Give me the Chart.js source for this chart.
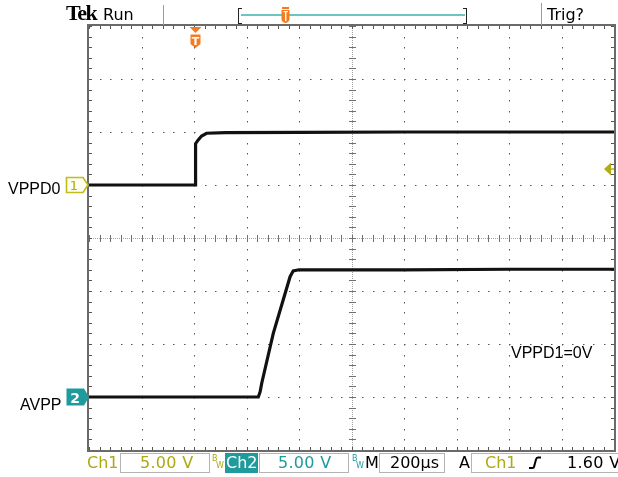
<!DOCTYPE html>
<html><head><meta charset="utf-8">
<script src="https://cdn.jsdelivr.net/npm/chart.js@4"></script>
<style>
html,body{margin:0;padding:0;background:#fff;}
#wrap{position:relative;width:618px;height:477px;overflow:hidden;background:#fff;}
canvas{position:absolute;left:0;top:0;}
.t{position:absolute;white-space:nowrap;font-size:16px;line-height:16px;}
.sans{font-family:"Liberation Sans",Arial,sans-serif;}
.dv{font-family:"DejaVu Sans",Verdana,sans-serif;}
.box{position:absolute;border:1px solid #b4b4b4;box-sizing:border-box;}
.vl{position:absolute;width:1px;background:#9a9a9a;}
.bw{position:absolute;font-family:"DejaVu Sans",sans-serif;font-size:8px;line-height:8px;}
.ol{color:#ada814;}
.tl{color:#1f9a9d;}
svg{position:absolute;overflow:visible;}
</style></head>
<body><div id="wrap">
<canvas id="c" width="618" height="477"></canvas>

<!-- header -->
<div class="t" style="left:66px;top:3px;font-family:'Liberation Serif','Times New Roman',serif;font-weight:bold;font-size:22px;line-height:20px;letter-spacing:-1.4px;">Tek</div>
<div class="t dv" style="left:103px;top:7px;">Run</div>
<div class="vl" style="left:163px;top:5px;height:20px;"></div>
<div style="position:absolute;left:238px;top:8px;width:3px;height:14px;border:1px solid #222;border-right:none;"></div>
<div style="position:absolute;left:241px;top:14px;width:224px;height:2px;background:#6cc5c2;"></div>
<div style="position:absolute;left:463px;top:8px;width:3px;height:14px;border:1px solid #222;border-left:none;"></div>
<svg style="left:280px;top:6px;" width="12" height="18"><path d="M2,1 H9 V3 H2 Z M1.5,4 H9.5 V13 Q9.5,16 5.5,17 Q1.5,16 1.5,13 Z" fill="#f47b20"/><rect x="5" y="5" width="1.4" height="10" fill="#fff"/><rect x="3.5" y="5" width="4.4" height="1.2" fill="#fff"/></svg>
<div class="vl" style="left:541px;top:3px;height:22px;"></div>
<div class="t dv" style="left:547px;top:7px;">Trig?</div>

<!-- trigger position marker -->
<svg style="left:189px;top:26px;" width="14" height="24"><path d="M0.5,1 H12.5 L6.5,7 Z" fill="#f47b20"/><path d="M1.5,8.5 H11.5 V18 L6.5,22 L1.5,18 Z" fill="#f47b20"/><text x="6.5" y="19" text-anchor="middle" font-family="DejaVu Sans,sans-serif" font-weight="bold" font-size="11" fill="#fff">T</text></svg>

<!-- channel labels -->
<div class="t sans" style="left:8px;top:181px;">VPPD0</div>
<svg style="left:65px;top:176px;" width="26" height="19"><path d="M1.5,1.5 H18 L23,9 L18,16.5 H1.5 Z" fill="#fffff0" stroke="#c2ba1c" stroke-width="1.6"/><text x="9" y="14" text-anchor="middle" font-family="DejaVu Sans,sans-serif" font-size="13" fill="#ada814">1</text></svg>
<div class="t sans" style="left:20px;top:397px;">AVPP</div>
<svg style="left:66px;top:388px;" width="26" height="19"><path d="M0.5,0.5 H18 L23,9 L18,17.5 H0.5 Z" fill="#1f9a9d"/><text x="9" y="15" text-anchor="middle" font-family="DejaVu Sans,sans-serif" font-weight="bold" font-size="14" fill="#fff">2</text></svg>
<div class="t sans" style="left:511px;top:345px;">VPPD1=0V</div>
<svg style="left:602px;top:161px;" width="14" height="16"><path d="M2,8 L9,1.5 V14.5 Z" fill="#b3ad14"/><rect x="9" y="7.3" width="3" height="1.4" fill="#b3ad14"/></svg>

<!-- bottom bar -->
<div class="t dv ol" style="left:87px;top:455px;">Ch1</div>
<div class="box" style="left:120px;top:453px;width:90px;height:20px;"></div>
<div class="t dv ol" style="left:140px;top:455px;letter-spacing:0.3px;">5.00 V</div>
<div class="bw ol" style="left:212px;top:455px;">B</div><div class="bw ol" style="left:216px;top:462px;">W</div>
<div style="position:absolute;left:225px;top:453px;width:33px;height:20px;background:#1f9a9d;"></div>
<div class="t dv" style="left:226px;top:455px;color:#fff;">Ch2</div>
<div class="box" style="left:259px;top:453px;width:90px;height:20px;"></div>
<div class="t dv tl" style="left:278px;top:455px;letter-spacing:0.3px;">5.00 V</div>
<div class="bw tl" style="left:352px;top:455px;">B</div><div class="bw tl" style="left:356px;top:462px;">W</div>
<div class="t dv" style="left:365px;top:455px;">M</div>
<div class="box" style="left:379px;top:453px;width:66px;height:20px;"></div>
<div class="t dv" style="left:390px;top:455px;">200µs</div>
<div class="t dv" style="left:459px;top:455px;">A</div>
<div class="box" style="left:471px;top:453px;width:160px;height:20px;"></div>
<div class="t dv ol" style="left:485px;top:455px;">Ch1</div>
<svg style="left:528px;top:456px;" width="14" height="14"><path d="M1,12 H4.5 Q6,12 6.5,9 L8,3.5 Q8.5,1.5 10,1.5 H13" fill="none" stroke="#000" stroke-width="2"/></svg>
<div class="t dv" style="left:567px;top:455px;letter-spacing:0.3px;">1.60 V</div>
</div>

<script>
// ---- data (time in µs relative to trigger, volts) ----
const ch1Time  = [-400, 5, 6, 16, 29, 48, 120, 400, 800, 1200, 1600];
const ch1Volts = [0,    0, 3.9, 4.25, 4.62, 4.88, 4.95, 4.97, 5.0, 5.0, 5.0];
const ch2Time  = [-400, 245, 252, 258, 302, 366, 378, 400, 800, 1200, 1600];
const ch2Volts = [0,    0,   0.5, 1.3, 6.0, 11.35, 11.9, 12.0, 12.0, 12.05, 12.05];
const timeRange = [-400, 1600];      // 200 µs/div, 10 div
const ch1Range  = [-25, 15];         // 5 V/div, ground +1 div
const ch2Range  = [-5, 35];          // 5 V/div, ground -3 div

const toPts = (t, v) => t.map((x, i) => ({x, y: v[i]}));

const graticule = {
  id: 'graticule',
  beforeDatasetsDraw(chart) {
    const ctx = chart.ctx;
    const {left, top, right, bottom} = chart.chartArea;
    const W = right - left, H = bottom - top, dx = W / 10, dy = H / 8;
    ctx.save();
    ctx.fillStyle = '#555';
    for (let i = 1; i < 10; i++) {
      if (i === 5) continue;
      const x = Math.round(left + i * dx);
      for (let j = 0; j <= 40; j++) ctx.fillRect(x, Math.round(top + j * dy / 5), 1, 1.5);
    }
    for (let j = 1; j < 8; j++) {
      if (j === 4) continue;
      const y = Math.round(top + j * dy);
      for (let i = 0; i <= 50; i++) ctx.fillRect(Math.round(left + i * dx / 5), y, 1.5, 1);
    }
    const cx = Math.round(left + 5 * dx), cy = Math.round(top + 4 * dy);
    ctx.fillStyle = '#a0a0a0';
    for (let x = left; x < right; x += 2) ctx.fillRect(Math.round(x), cy, 1, 1);
    for (let y = top; y < bottom; y += 2) ctx.fillRect(cx, Math.round(y), 1, 1);
    ctx.fillStyle = '#707070';
    for (let i = 0; i <= 50; i++) ctx.fillRect(Math.round(left + i * dx / 5), cy - 3, 1, 7);
    for (let j = 0; j <= 40; j++) ctx.fillRect(cx - 3, Math.round(top + j * dy / 5), 7, 1);
    ctx.fillStyle = '#555';
    for (let i = 0; i <= 50; i++) {
      const x = Math.round(left + i * dx / 5);
      ctx.fillRect(x, top, 1, 3);
      ctx.fillRect(x, bottom - 3, 1, 3);
    }
    for (let j = 0; j <= 40; j++) {
      const y = Math.round(top + j * dy / 5);
      ctx.fillRect(left, y, 3, 1);
      ctx.fillRect(right - 3, y, 3, 1);
    }
    ctx.strokeStyle = '#6a6a6a';
    ctx.lineWidth = 2;
    ctx.strokeRect(left - 1, top - 1, W + 2, H + 2);
    ctx.restore();
  }
};

new Chart(document.getElementById('c'), {
  type: 'line',
  data: {
    datasets: [
      {label: 'VPPD0', data: toPts(ch1Time, ch1Volts), yAxisID: 'y1',
       borderColor: '#111', borderWidth: 3.2, pointRadius: 0, tension: 0},
      {label: 'AVPP', data: toPts(ch2Time, ch2Volts), yAxisID: 'y2',
       borderColor: '#111', borderWidth: 3.2, pointRadius: 0, tension: 0}
    ]
  },
  options: {
    responsive: false, animation: false, devicePixelRatio: 1,
    layout: {padding: {left: 89, top: 26, right: 4, bottom: 27}},
    plugins: {legend: {display: false}, tooltip: {enabled: false}},
    scales: {
      x: {type: 'linear', min: timeRange[0], max: timeRange[1], display: false},
      y1: {min: ch1Range[0], max: ch1Range[1], display: false},
      y2: {min: ch2Range[0], max: ch2Range[1], display: false}
    }
  },
  plugins: [graticule]
});
</script>
</body></html>
